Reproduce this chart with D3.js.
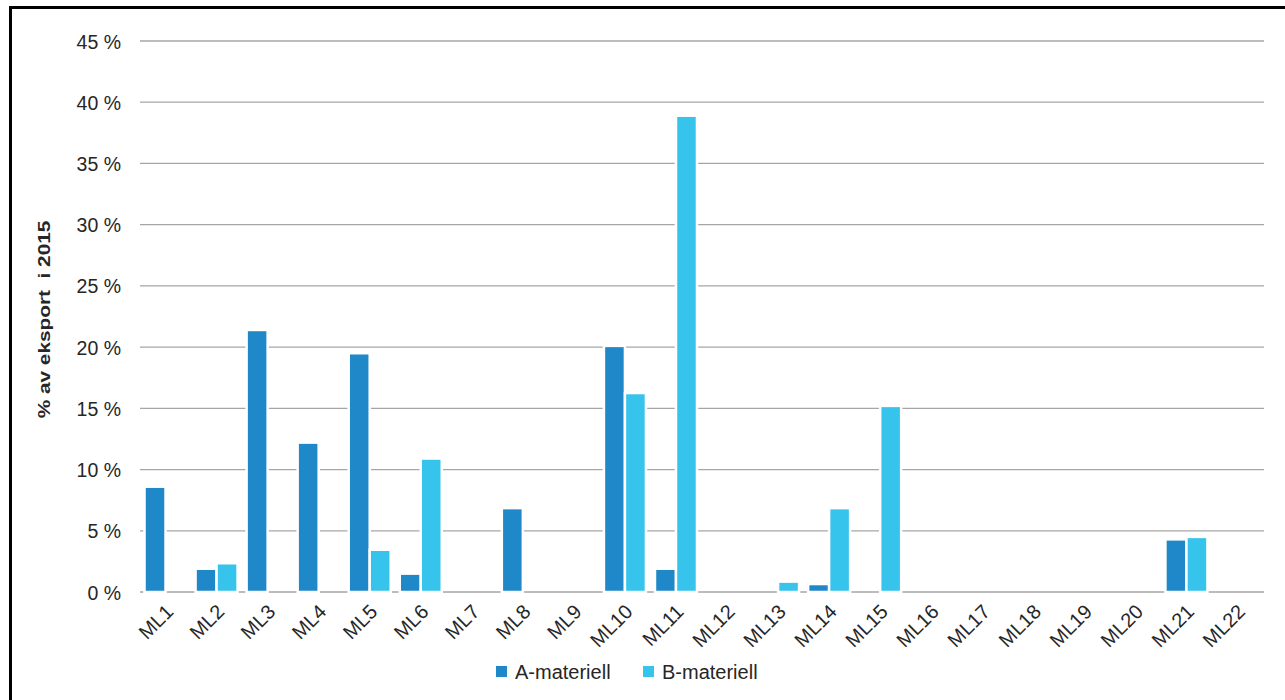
<!DOCTYPE html>
<html>
<head>
<meta charset="utf-8">
<script src="https://cdn.jsdelivr.net/npm/d3@7"></script>
<style>
  html, body { margin: 0; padding: 0; background: #fff; }
  svg { display: block; font-family: "Liberation Sans", Arial, sans-serif; }
</style>
</head>
<body>
<svg id="chart" width="1285" height="700"></svg>
<script>
const categories = ["ML1","ML2","ML3","ML4","ML5","ML6","ML7","ML8","ML9","ML10","ML11","ML12","ML13","ML14","ML15","ML16","ML17","ML18","ML19","ML20","ML21","ML22"];
const seriesNames = ["A-materiell","B-materiell"];
const seriesA = [8.6, 1.9, 21.4, 12.2, 19.5, 1.5, 0, 6.85, 0, 20.1, 1.9, 0, 0, 0.65, 0, 0, 0, 0, 0, 0, 4.3, 0];
const seriesB = [0, 2.35, 0, 0, 3.45, 10.9, 0, 0, 0, 16.25, 38.9, 0, 0.85, 6.85, 15.2, 0, 0, 0, 0, 0, 4.5, 0];
const yTicks = [0, 5, 10, 15, 20, 25, 30, 35, 40, 45];
const colors = ["#1f88c8", "#36c4ec"];
const yTitle = "% av eksport  i 2015";

const svg = d3.select("#chart");
const plot = { left: 140, right: 1263, top: 41, bottom: 592 };

// frame
svg.append("rect")
  .attr("x", 10.5).attr("y", 7.5)
  .attr("width", 1290).attr("height", 720)
  .attr("fill", "none").attr("stroke", "#000").attr("stroke-width", 3);

const x0 = d3.scaleBand().domain(categories).range([plot.left, plot.right]).padding(0);
const groupW = 42;
const x1 = d3.scaleBand().domain(seriesNames)
  .range([(x0.bandwidth() - groupW) / 2, (x0.bandwidth() + groupW) / 2]).padding(0);
const y = d3.scaleLinear().domain([0, 45]).range([plot.bottom, plot.top]);

// gridlines
svg.append("g").selectAll("line").data(yTicks).join("line")
  .attr("x1", plot.left).attr("x2", plot.right + 1)
  .attr("y1", d => y(d)).attr("y2", d => y(d))
  .attr("stroke", "#a6a6a6").attr("stroke-width", 1.3);

// y axis labels
const yAxis = d3.axisLeft(y).tickValues(yTicks).tickSize(0).tickPadding(0)
  .tickFormat(d => d + " %");
const gy = svg.append("g").attr("transform", `translate(121,0)`).call(yAxis);
gy.select(".domain").remove();
gy.selectAll("text")
  .attr("font-size", 19.5).attr("fill", "#262626")
  .attr("font-family", "'Liberation Sans', Arial, sans-serif")
  .attr("dy", "0.36em").attr("x", 0).attr("text-anchor", "end");

// bars
const rows = categories.map((c, i) => ({ cat: c, vals: [seriesA[i], seriesB[i]] }));
const groups = svg.append("g").selectAll("g").data(rows).join("g")
  .attr("transform", d => `translate(${x0(d.cat)},0)`);
groups.selectAll("rect")
  .data(d => d.vals.map((v, j) => ({ key: seriesNames[j], v, j })).filter(e => e.v > 0))
  .join("rect")
  .attr("x", e => x1(e.key))
  .attr("width", x1.bandwidth())
  .attr("y", e => y(e.v))
  .attr("height", e => y(0) - y(e.v))
  .attr("fill", e => colors[e.j])
  .attr("stroke", "#fff").attr("stroke-width", 2.5);

// x axis labels
const xAxis = d3.axisBottom(x0).tickSize(0).tickPadding(0);
const gx = svg.append("g").attr("transform", `translate(0,${plot.bottom})`).call(xAxis);
gx.select(".domain").remove();
gx.selectAll("text")
  .attr("font-size", 20).attr("fill", "#262626")
  .attr("font-family", "'Liberation Sans', Arial, sans-serif")
  .attr("y", 0).attr("dy", 0)
  .attr("text-anchor", "end")
  .attr("transform", "translate(9,21) rotate(-45)");

// y title
svg.append("text")
  .attr("transform", `translate(50,${(217 + 422) / 2}) rotate(-90) scale(1.3,1)`)
  .attr("text-anchor", "middle")
  .attr("font-size", 16).attr("font-weight", "bold").attr("fill", "#262626")
  .style("white-space", "pre")
  .text(yTitle);

// legend
const legendX = [496, 643];
const lg = svg.append("g").selectAll("g").data(seriesNames).join("g")
  .attr("transform", (d, i) => `translate(${legendX[i]},666)`);
lg.append("rect").attr("width", 11).attr("height", 11).attr("fill", (d, i) => colors[i]);
lg.append("text").attr("x", 19).attr("y", 13).attr("font-size", 20).attr("fill", "#262626")
  .text(d => d);
</script>
</body>
</html>
